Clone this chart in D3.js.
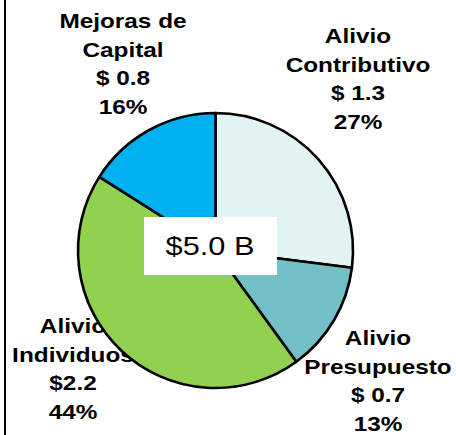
<!DOCTYPE html>
<html>
<head>
<meta charset="utf-8">
<script src="https://cdn.jsdelivr.net/npm/d3@7"></script>
<style>
  html, body { margin: 0; padding: 0; background: #fff; }
  svg { display: block; }
</style>
</head>
<body>
<svg id="chart" width="456" height="435"></svg>
<script>
// Data
const categories = [
  ["Alivio", "Contributivo"],
  ["Alivio", "Presupuesto"],
  ["Alivio", "Individuos"],
  ["Mejoras de", "Capital"]
];
const amounts = ["$ 1.3", "$ 0.7", "$2.2", "$ 0.8"];
const percents = [27, 13, 44, 16];
const colors = ["#E2F3F3", "#72BFC6", "#92D050", "#00B0F0"];
const totalLabel = "$5.0 B";

const svg = d3.select("#chart");
const W = 456, H = 435;
const cx = 215.5, cy = 250.5, R = 137.5;
const stretch = 1.16;

// left border
svg.append("line")
  .attr("x1", 5).attr("x2", 5).attr("y1", 0).attr("y2", H)
  .attr("stroke", "#000").attr("stroke-width", 2);

// labels (drawn before pie, pie overlaps them)
const labelPos = [
  { x: 358, y: 43 },
  { x: 378, y: 345 },
  { x: 73, y: 333 },
  { x: 123, y: 28 }
];
const lineH = 28.6;
const labels = svg.append("g").attr("class", "labels");
categories.forEach((cat, i) => {
  const lines = [...cat, amounts[i], percents[i] + "%"];
  const g = labels.append("g")
    .attr("transform", `translate(${labelPos[i].x},${labelPos[i].y}) scale(${stretch},1)`);
  g.selectAll("text").data(lines).join("text")
    .attr("x", 0)
    .attr("y", (d, j) => j * lineH)
    .attr("text-anchor", "middle")
    .attr("font-family", "Liberation Sans, Arial, sans-serif")
    .attr("font-weight", "bold")
    .attr("font-size", 21)
    .attr("fill", "#000")
    .text(d => d);
});

// pie
const pie = d3.pie().sort(null).value(d => d);
const arc = d3.arc().innerRadius(0).outerRadius(R);
const pg = svg.append("g").attr("transform", `translate(${cx},${cy})`);
pg.selectAll("path").data(pie(percents)).join("path")
  .attr("d", arc)
  .attr("fill", (d, i) => colors[i])
  .attr("stroke", "#000")
  .attr("stroke-width", 2.6)
  .attr("stroke-linejoin", "round");

// center box
svg.append("rect")
  .attr("x", 144).attr("y", 217).attr("width", 133).attr("height", 58)
  .attr("fill", "#fff");
svg.append("text")
  .attr("transform", `translate(210,255) scale(${stretch},1)`)
  .attr("text-anchor", "middle")
  .attr("font-family", "Liberation Sans, Arial, sans-serif")
  .attr("font-size", 26.5)
  .attr("fill", "#000")
  .text(totalLabel);
</script>
</body>
</html>
